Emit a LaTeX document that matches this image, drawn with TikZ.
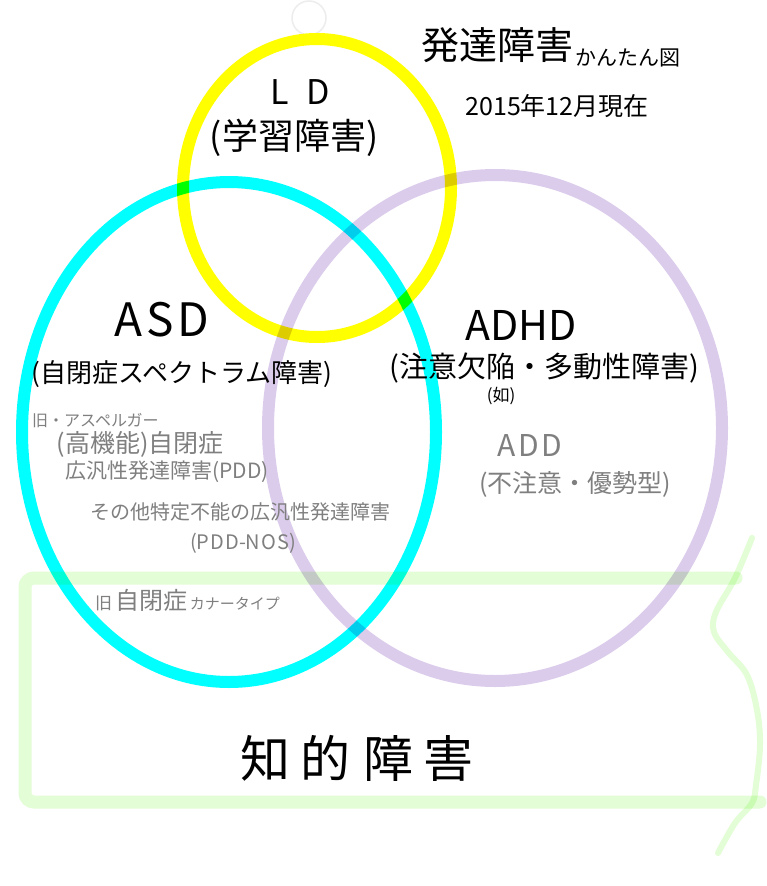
\documentclass[tikz,border=0pt]{standalone}
\usepackage{fontspec}
\setmainfont{Noto Sans CJK JP}
\newcommand\myfs[1]{\fontsize{#1}{#1}\selectfont}
\definecolor{cyanring}{HTML}{00FFFF}
\definecolor{yellowring}{HTML}{FFFF00}
\definecolor{purplering}{HTML}{DCCCEC}
\definecolor{greenbox}{HTML}{E3FDD6}
\definecolor{graytext}{HTML}{7F7F7F}
\definecolor{faint}{HTML}{EDEDED}
\tikzset{
  ring/.style={line width=12pt},
  blacktext/.style={text=black, inner sep=0pt},
  graylabel/.style={text=graytext, inner sep=0pt},
}
\begin{document}
\begin{tikzpicture}[x=1pt,y=-1pt]
\useasboundingbox (0,0) rectangle (766,886);
\fill[white] (0,0) rectangle (766,886);
\draw[faint, line width=1.5pt] (309,18) circle [radius=17pt];
\begin{scope}[blend group=multiply]
  \draw[ring, greenbox, line width=13pt, line cap=round, rounded corners=9pt]
    (736,578) -- (25,578) -- (25,802) -- (760,802);
  \draw[greenbox, line width=6pt, line cap=round]
    plot[smooth, tension=0.6] coordinates {(752,538) (735,578) (716,612) (714,632) (728,652) (747,675) (757,710) (760,745) (756,785) (752,803) (735,823) (718,853)};
  \draw[ring, yellowring] (317,188) ellipse [x radius=134pt, y radius=149pt];
  \draw[ring, cyanring] (229,432) ellipse [x radius=207pt, y radius=250pt];
  \draw[ring, purplering] (495,428) ellipse [x radius=227pt, y radius=253pt];
\end{scope}
% title
\node[blacktext] (title) at (497,45) {\myfs{38}発達障害};
\node[blacktext, anchor=west] (kantan) at (575,58) {\myfs{21}かんたん図};
\node[blacktext] (date) at (557,106) {\myfs{25}2015年12月現在};
% LD
\node[blacktext] (ld) at (300,92) {\myfs{34}L\hspace{0.5em}D};
\node[blacktext] (ldjp) at (294,138) {\myfs{36}(学習障害)};
% ASD
\node[blacktext] (asd) at (162,320) {\myfs{46}A\hspace{0.08em}S\hspace{0.08em}D};
\node[blacktext] (asdjp) at (182,374) {\myfs{26}(自閉症スペクトラム障害)};
% ADHD
\node[blacktext] (adhd) at (521,325) {\myfs{41}ADHD};
\node[blacktext] (adhdjp) at (544,368) {\myfs{29}(注意欠陥・多動性障害)};
\node[blacktext] (nyo) at (501,396) {\myfs{17}(如)};
% gray ASD texts
\node[graylabel, anchor=west] (asp) at (32,421) {\myfs{16}旧・アスペルガー};
\node[graylabel] (hfa) at (140,444) {\myfs{25}(高機能)自閉症};
\node[graylabel, anchor=west] (pdd) at (65,472) {\myfs{21}広汎性発達障害(PDD)};
\node[graylabel, anchor=west] (nos) at (90,512) {\myfs{20}その他特定不能の広汎性発達障害};
\node[graylabel] (nosab) at (243,543) {\myfs{20}(P\hspace{0.05em}D\hspace{0.05em}D-N\hspace{0.05em}O\hspace{0.05em}S)};
% ADD
\node[graylabel] (add) at (530,445) {\myfs{30}A\hspace{0.08em}D\hspace{0.08em}D};
\node[graylabel] (addjp) at (575,484) {\myfs{25}(不注意・優勢型)};
% kanner
\node[graylabel, anchor=west] (kanner) at (95,600) {\myfs{17}旧\,{\myfs{24}自閉症}\,{\myfs{15}カナータイプ}};
% ID
\node[blacktext] (id) at (357,758) {\myfs{50}知\hspace{0.2em}的\hspace{0.25em}障\hspace{0.2em}害};
\end{tikzpicture}
\end{document}
